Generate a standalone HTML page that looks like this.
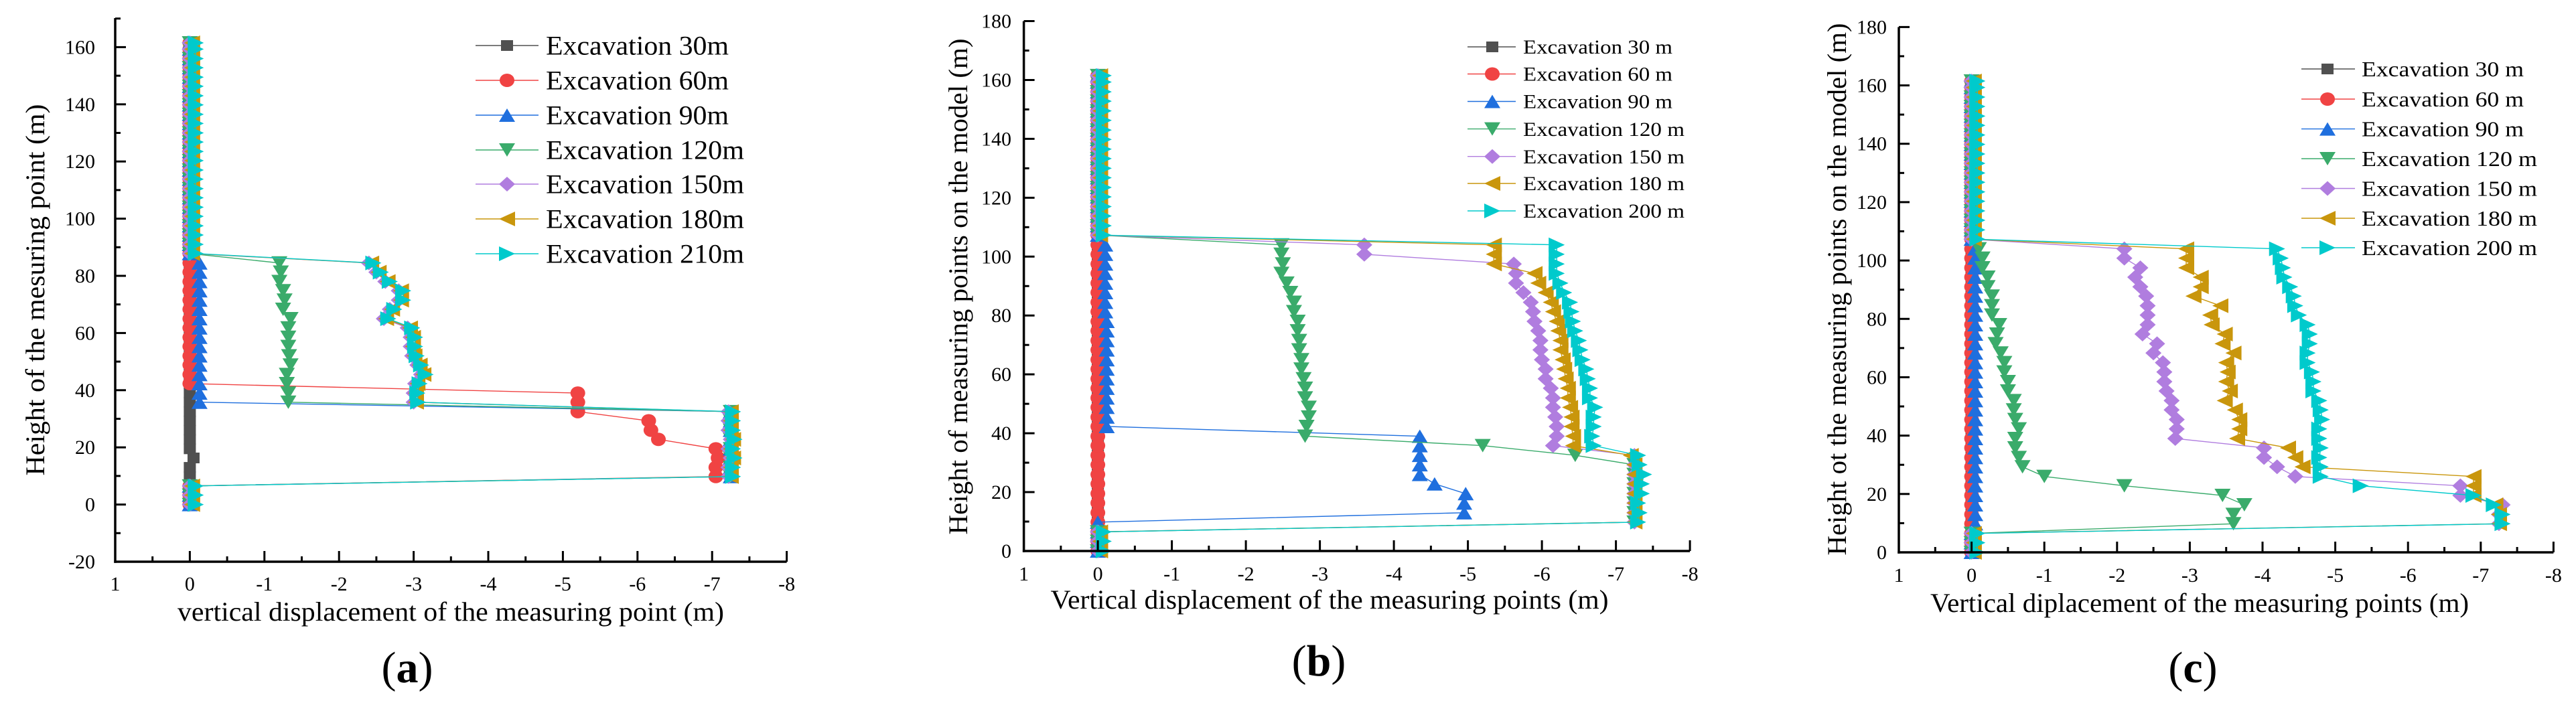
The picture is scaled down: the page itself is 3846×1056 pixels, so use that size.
<!DOCTYPE html>
<html><head><meta charset="utf-8">
<style>
html,body{margin:0;padding:0;background:#fff;}
svg{display:block;font-family:"Liberation Serif","DejaVu Serif",serif;}
</style></head>
<body>
<svg id="fig" width="3846" height="1056" viewBox="0 0 3846 1056" xmlns="http://www.w3.org/2000/svg"></svg>
<script>
const H = [0,3.3,6.5,9.8,13,16.3,19.5,22.8,26,29.3,32.5,35.8,39,42.3,45.5,48.8,52,55.3,58.5,61.8,65,68.3,71.5,74.8,78,81.3,84.5,87.8,91,94.3,97.5,100.8,104,107.3,110.5,113.8,117,120.3,123.5,126.8,130,133.3,136.5,139.8,143,146.3,149.5,152.8,156,159.3,161.5];

// Panel (a)
const a30 = [0,0,0,0,0,-0.05,0,0,0,0,0,0,0,0,0,0,0,0,0,0,0,0,0,0,0,0,0,0,0,0,0,0,0,0,0,0,0,0,0,0,0,0,0,0,0,0,0,0,0,0,0];
const a60 = [0,0,0,-7.05,-7.05,-7.08,-7.05,-6.28,-6.18,-6.15,-5.2,-5.2,-5.2,0,0,0,0,0,0,0,0,0,0,0,0,0,0,0,0,0,0,0,0,0,0,0,0,0,0,0,0,0,0,0,0,0,0,0,0,0,0];
const a90 = [0,0,0,-7.25,-7.25,-7.25,-7.25,-7.25,-7.25,-7.25,-7.25,-0.13,-0.13,-0.13,-0.13,-0.13,-0.13,-0.13,-0.13,-0.13,-0.13,-0.13,-0.13,-0.13,-0.13,-0.13,-0.13,0,0,0,0,0,0,0,0,0,0,0,0,0,0,0,0,0,0,0,0,0,0,0,0];
const a120 = [0,0,0,-7.25,-7.25,-7.25,-7.25,-7.25,-7.25,-7.25,-7.25,-1.32,-1.32,-1.3,-1.3,-1.35,-1.33,-1.32,-1.32,-1.32,-1.35,-1.25,-1.27,-1.25,-1.2,-1.22,-1.2,0,0,0,0,0,0,0,0,0,0,0,0,0,0,0,0,0,0,0,0,0,0,0,0];
const a150 = [0,0,0,-7.22,-7.22,-7.25,-7.22,-7.25,-7.22,-7.22,-7.22,-3.0,-3.0,-3.02,-3.1,-3.05,-2.98,-2.96,-2.96,-2.92,-2.6,-2.68,-2.8,-2.8,-2.62,-2.5,-2.4,0,0,0,0,0,0,0,0,0,0,0,0,0,0,0,0,0,0,0,0,0,0,0,0];
const a180 = [-0.03,-0.03,-0.03,-7.25,-7.25,-7.28,-7.25,-7.28,-7.25,-7.25,-7.25,-3.03,-3.03,-3.05,-3.13,-3.08,-3.01,-2.99,-2.99,-2.95,-2.63,-2.71,-2.83,-2.83,-2.65,-2.53,-2.43,-0.03,-0.03,-0.03,-0.03,-0.03,-0.03,-0.03,-0.03,-0.03,-0.03,-0.03,-0.03,-0.03,-0.03,-0.03,-0.03,-0.03,-0.03,-0.03,-0.03,-0.03,-0.03,-0.03,-0.03];
const a210 = [-0.08,-0.08,-0.08,-7.28,-7.28,-7.3,-7.28,-7.3,-7.28,-7.28,-7.28,-3.06,-3.05,-3.08,-3.16,-3.1,-3.04,-3.02,-3.02,-2.98,-2.66,-2.74,-2.86,-2.86,-2.68,-2.56,-2.46,-0.08,-0.08,-0.08,-0.08,-0.08,-0.08,-0.08,-0.08,-0.08,-0.08,-0.08,-0.08,-0.08,-0.08,-0.08,-0.08,-0.08,-0.08,-0.08,-0.08,-0.08,-0.08,-0.08,-0.08];

// Panel (b)
const b30 = [0,0,0,0,0,0,0,0,0,0,0,0,0,0,0,0,0,0,0,0,0,0,0,0,0,0,0,0,0,0,0,0,0,0,0,0,0,0,0,0,0,0,0,0,0,0,0,0,0,0,0];
const b60 = [0,0,0,0,0,0,0,0,0,0,0,0,0,0,0,0,0,0,0,0,0,0,0,0,0,0,0,0,0,0,0,0,0,0,0,0,0,0,0,0,0,0,0,0,0,0,0,0,0,0,0];
const b90 = [0,0,0,0,-4.95,-4.95,-4.97,-4.55,-4.35,-4.35,-4.35,-4.35,-4.35,-0.12,-0.12,-0.12,-0.12,-0.12,-0.12,-0.12,-0.12,-0.12,-0.12,-0.12,-0.12,-0.1,-0.1,-0.1,-0.1,-0.1,-0.1,-0.1,-0.1,0,0,0,0,0,0,0,0,0,0,0,0,0,0,0,0,0,0];
const b120 = [0,0,0,-7.25,-7.25,-7.25,-7.25,-7.25,-7.25,-7.25,-6.45,-5.2,-2.8,-2.82,-2.85,-2.85,-2.8,-2.8,-2.78,-2.75,-2.75,-2.72,-2.72,-2.7,-2.7,-2.65,-2.65,-2.6,-2.55,-2.48,-2.5,-2.48,-2.48,0,0,0,0,0,0,0,0,0,0,0,0,0,0,0,0,0,0];
const b150 = [0,0,0,-7.25,-7.25,-7.25,-7.25,-7.25,-7.25,-7.25,-7.25,-6.15,-6.2,-6.2,-6.18,-6.15,-6.15,-6.12,-6.05,-6.05,-6.0,-5.98,-5.98,-5.95,-5.9,-5.88,-5.85,-5.75,-5.65,-5.65,-5.62,-3.6,-3.6,0,0,0,0,0,0,0,0,0,0,0,0,0,0,0,0,0,0];
const b180 = [-0.03,-0.03,-0.03,-7.25,-7.25,-7.25,-7.25,-7.25,-7.25,-7.25,-7.2,-6.42,-6.42,-6.4,-6.4,-6.38,-6.35,-6.35,-6.32,-6.3,-6.28,-6.25,-6.25,-6.22,-6.2,-6.15,-6.12,-6.05,-5.95,-5.9,-5.35,-5.35,-5.35,-0.03,-0.03,-0.03,-0.03,-0.03,-0.03,-0.03,-0.03,-0.03,-0.03,-0.03,-0.03,-0.03,-0.03,-0.03,-0.03,-0.03,-0.03];
const b200 = [-0.08,-0.08,-0.08,-7.3,-7.32,-7.3,-7.35,-7.35,-7.38,-7.32,-7.3,-6.7,-6.68,-6.7,-6.7,-6.72,-6.65,-6.65,-6.62,-6.6,-6.55,-6.52,-6.5,-6.45,-6.42,-6.4,-6.38,-6.3,-6.25,-6.2,-6.2,-6.2,-6.2,-0.08,-0.08,-0.08,-0.08,-0.08,-0.08,-0.08,-0.08,-0.08,-0.08,-0.08,-0.08,-0.08,-0.08,-0.08,-0.08,-0.08,-0.08];

// Panel (c)
const c30 = [0,0,0,0,0,0,0,0,0,0,0,0,0,0,0,0,0,0,0,0,0,0,0,0,0,0,0,0,0,0,0,0,0,0,0,0,0,0,0,0,0,0,0,0,0,0,0,0,0,0,0];
const c60 = [0,0,0,0,0,0,0,0,0,0,0,0,0,0,0,0,0,0,0,0,0,0,0,0,0,0,0,0,0,0,0,0,0,0,0,0,0,0,0,0,0,0,0,0,0,0,0,0,0,0,0];
const c90 = [0,0,0,-0.05,-0.05,-0.05,-0.05,-0.05,-0.05,-0.05,-0.05,-0.05,-0.05,-0.05,-0.05,-0.05,-0.05,-0.05,-0.05,-0.05,-0.05,-0.05,-0.05,-0.05,-0.05,-0.05,-0.05,-0.05,-0.05,-0.05,-0.05,-0.05,-0.05,0,0,0,0,0,0,0,0,0,0,0,0,0,0,0,0,0,0];
const c120 = [0,0,0,-3.6,-3.6,-3.75,-3.45,-2.1,-1.0,-0.7,-0.65,-0.6,-0.6,-0.65,-0.6,-0.58,-0.58,-0.5,-0.5,-0.45,-0.45,-0.4,-0.33,-0.35,-0.38,-0.28,-0.28,-0.28,-0.22,-0.22,-0.15,-0.15,-0.1,0,0,0,0,0,0,0,0,0,0,0,0,0,0,0,0,0,0];
const c150 = [0,0,0,-7.25,-7.25,-7.3,-6.72,-6.72,-4.45,-4.2,-4.02,-4.02,-2.8,-2.82,-2.82,-2.75,-2.75,-2.68,-2.65,-2.65,-2.63,-2.5,-2.55,-2.35,-2.42,-2.42,-2.42,-2.4,-2.32,-2.25,-2.32,-2.1,-2.1,0,0,0,0,0,0,0,0,0,0,0,0,0,0,0,0,0,0];
const c180 = [-0.03,-0.03,-0.03,-7.25,-7.25,-7.2,-6.9,-6.9,-6.9,-4.55,-4.45,-4.35,-3.65,-3.68,-3.68,-3.62,-3.48,-3.55,-3.5,-3.52,-3.5,-3.6,-3.45,-3.48,-3.3,-3.28,-3.42,-3.05,-3.15,-3.15,-2.95,-2.95,-2.95,-0.03,-0.03,-0.03,-0.03,-0.03,-0.03,-0.03,-0.03,-0.03,-0.03,-0.03,-0.03,-0.03,-0.03,-0.03,-0.03,-0.03,-0.03];
const c200 = [-0.08,-0.08,-0.08,-7.3,-7.3,-7.18,-6.9,-5.35,-4.8,-4.8,-4.78,-4.8,-4.78,-4.78,-4.82,-4.8,-4.78,-4.7,-4.7,-4.68,-4.62,-4.62,-4.65,-4.65,-4.62,-4.5,-4.45,-4.43,-4.38,-4.3,-4.28,-4.25,-4.2,-0.08,-0.08,-0.08,-0.08,-0.08,-0.08,-0.08,-0.08,-0.08,-0.08,-0.08,-0.08,-0.08,-0.08,-0.08,-0.08,-0.08,-0.08];

const xTicks = [1,0,-1,-2,-3,-4,-5,-6,-7,-8];
const xTickLabels = ["1","0","-1","-2","-3","-4","-5","-6","-7","-8"];
const yTicksA = [-20,0,20,40,60,80,100,120,140,160];
const yTicksBC = [0,20,40,60,80,100,120,140,160,180];
const legendA = ["Excavation 30m","Excavation 60m","Excavation 90m","Excavation 120m","Excavation 150m","Excavation 180m","Excavation 210m"];
const legendB = ["Excavation 30 m","Excavation 60 m","Excavation 90 m","Excavation 120 m","Excavation 150 m","Excavation 180 m","Excavation 200 m"];

const COLORS = ["#505050","#f04343","#1f6fde","#3aab6b","#b07ddf","#c9960c","#00cacc"];
const SHAPES = ["square","circle","up","down","diamond","left","right"];
const NS = "http://www.w3.org/2000/svg";
const svg = document.getElementById("fig");

function mk(tag, attrs, parent){
  const e = document.createElementNS(NS, tag);
  for (const k in attrs) e.setAttribute(k, attrs[k]);
  (parent||svg).appendChild(e);
  return e;
}
function marker(g, shape, cx, cy, color){
  const w=12, h=10;
  let e;
  if (shape==="square"){ e = mk("rect",{x:cx-9,y:cy-8,width:18,height:16,fill:color},g); }
  else if (shape==="circle"){ e = mk("ellipse",{cx:cx,cy:cy,rx:11,ry:10,fill:color},g); }
  else {
    let p;
    if (shape==="up") p=[[cx,cy-h],[cx+w,cy+h],[cx-w,cy+h]];
    else if (shape==="down") p=[[cx,cy+h],[cx+w,cy-h],[cx-w,cy-h]];
    else if (shape==="diamond") p=[[cx,cy-h-1],[cx+w,cy],[cx,cy+h+1],[cx-w,cy]];
    else if (shape==="left") p=[[cx-w,cy],[cx+w,cy-h-1],[cx+w,cy+h+1]];
    else p=[[cx+w,cy],[cx-w,cy-h-1],[cx-w,cy+h+1]];
    e = mk("polygon",{points:p.map(q=>q.join(",")).join(" "),fill:color},g);
  }
  
  
}

function panel(cfg){
  const g = mk("g",{});
  
  
  const xs = v => cfg.xLeft + (1 - v)*cfg.ppu;
  const ys = v => cfg.yBottom - (v - cfg.yMin)*cfg.ppy;
  const xRight = xs(-8);
  cfg.series.forEach((arr, si) => {
    const sg = mk("g",{},g);
    
    
    const pts = arr.map((v,i)=>xs(v).toFixed(1)+","+ys(H[i]).toFixed(1)).join(" ");
    const pl = mk("polyline",{points:pts,fill:"none",stroke:COLORS[si],"stroke-width":1.4},sg);
    
    
    arr.forEach((v,i)=>marker(sg, SHAPES[si], xs(v), ys(H[i]), COLORS[si]));
  });
  const ax = mk("g",{stroke:"#000","stroke-width":3.5,fill:"none"},g);
  
  
  const yl = mk("line",{x1:cfg.xLeft,y1:cfg.yTopPx,x2:cfg.xLeft,y2:cfg.yBottom+1.7},ax);
  
  
  const xl = mk("line",{x1:cfg.xLeft-1.7,y1:cfg.yBottom,x2:xRight,y2:cfg.yBottom},ax);
  
  
  xTicks.forEach((t,i)=>{
    const x = xs(t);
    mk("line",{x1:x,y1:cfg.yBottom,x2:x,y2:cfg.yBottom-16,"stroke-width":3},ax);
    if (t > -8) { const xm = xs(t-0.5); mk("line",{x1:xm,y1:cfg.yBottom,x2:xm,y2:cfg.yBottom-8,"stroke-width":3},ax); }
    const tx = mk("text",{x:x,y:cfg.xLabelY+10,"font-size":cfg.tickFs,"text-anchor":"middle",fill:"#000"},g);
    tx.textContent = xTickLabels[i];
    
    
  });
  cfg.yTicks.forEach((t,i)=>{
    const y = ys(t);
    mk("line",{x1:cfg.xLeft,y1:y,x2:cfg.xLeft+16,y2:y,"stroke-width":3},ax);
    const ym = ys(t+10);
    if (ym >= cfg.yTopPx-1) mk("line",{x1:cfg.xLeft,y1:ym,x2:cfg.xLeft+8,y2:ym,"stroke-width":3},ax);
    const ty = mk("text",{x:cfg.yLabelRight,y:y+10,"font-size":cfg.tickFs,"text-anchor":"end",fill:"#000"},g);
    ty.textContent = String(t);
    
    
  });
  const xt = mk("text",{x:cfg.xTitle[0],y:cfg.xTitle[2]+13,"font-size":40,"text-anchor":"middle",textLength:cfg.xTitle[1],lengthAdjust:"spacingAndGlyphs"},g);
  xt.textContent = cfg.xTitleText;
  
  
  const yt = mk("text",{x:0,y:0,"font-size":cfg.yTitleFs,"text-anchor":"middle",textLength:cfg.yTitle[2],lengthAdjust:"spacingAndGlyphs",transform:`translate(${cfg.yTitle[0]+14},${cfg.yTitle[1]}) rotate(-90)`},g);
  yt.textContent = cfg.yTitleText;
  
  
  const lg = mk("g",{},g);
  
  
  cfg.legend.forEach((txt,i)=>{
    const y = cfg.legRows[i];
    const le = mk("g",{},lg);
    
    
    mk("line",{x1:cfg.legLine[0],y1:y,x2:cfg.legLine[1],y2:y,stroke:COLORS[i],"stroke-width":1.4},le);
    marker(le, SHAPES[i], cfg.legMarker, y, COLORS[i]);
    const tl = (txt.length>=cfg.longLen) ? cfg.legTextLong : cfg.legTextShort;
    const t = mk("text",{x:cfg.legText,y:y+cfg.legFs*0.34,"font-size":cfg.legFs,textLength:tl,lengthAdjust:"spacingAndGlyphs"},le);
    t.textContent = txt;
    
    
  });
  const pl = mk("text",{x:cfg.label[0],y:cfg.label[1]+22,"font-size":66,"text-anchor":"middle"},g);
  
  
  const s1 = mk("tspan",{},pl); s1.textContent="(";
  const s2 = mk("tspan",{"font-weight":"bold"},pl); s2.textContent=cfg.letter;
  const s3 = mk("tspan",{},pl); s3.textContent=")";
}

panel({name:"panel-a", letter:"a", xLeft:172, ppu:111.4, yMin:-20, yBottom:839, ppy:4.27, yTopPx:27,
  yTicks:yTicksA, series:[a30,a60,a90,a120,a150,a180,a210], legend:legendA,
  tickFs:30, xLabelY:872, yLabelRight:142,
  xTitle:[673,816,914], xTitleText:"vertical displacement of the measuring point (m)",
  yTitle:[52,433,555], yTitleFs:40, yTitleText:"Height of the mesuring point (m)",
  legRows:[68,120,172,224,275,327,379], legLine:[710,804], legMarker:757, legText:815,
  legFs:40, longLen:15, legTextShort:273, legTextLong:296, label:[608,997]});

panel({name:"panel-b", letter:"b", xLeft:1528.6, ppu:110.5, yMin:0, yBottom:823, ppy:4.397, yTopPx:31.6,
  yTicks:yTicksBC, series:[b30,b60,b90,b120,b150,b180,b200], legend:legendB,
  tickFs:30, xLabelY:857, yLabelRight:1510,
  xTitle:[1985,833,896], xTitleText:"Vertical displacement of the measuring points (m)",
  yTitle:[1430,428,741], yTitleFs:40, yTitleText:"Height of measuring points on the model (m)",
  legRows:[70,110.5,151.5,192.6,233.7,274,315], legLine:[2191,2263], legMarker:2228, legText:2274,
  legFs:30, longLen:16, legTextShort:223, legTextLong:241, label:[1969,987]});

panel({name:"panel-c", letter:"c", xLeft:2835, ppu:108.6, yMin:0, yBottom:825, ppy:4.359, yTopPx:40.4,
  yTicks:yTicksBC, series:[c30,c60,c90,c120,c150,c180,c200], legend:legendB,
  tickFs:30, xLabelY:859, yLabelRight:2817,
  xTitle:[3284,804,901], xTitleText:"Vertical diplacement of the measuring points (m)",
  yTitle:[2742,432,795], yTitleFs:40, yTitleText:"Height ot the measuring points on the model (m)",
  legRows:[103,148,192.6,237,281.5,326,370], legLine:[3436,3516], legMarker:3475, legText:3526,
  legFs:32, longLen:16, legTextShort:242, legTextLong:262, label:[3274,997]});
</script>
</body></html>
